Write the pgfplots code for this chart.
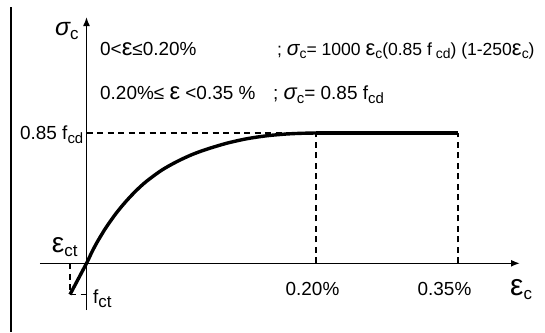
\documentclass[border=0pt]{standalone}
\usepackage{fontspec}
\setmainfont{Liberation Sans}
\usepackage{pgfplots}
\pgfplotsset{compat=1.18}
\usetikzlibrary{arrows.meta}
\newcommand\sub[2][15]{\raisebox{-0.22em}{\fontsize{#1}{#1}\selectfont #2}}
\newcommand\eps[1][24]{{\fontsize{#1}{#1}\selectfont ε}}
\newcommand\sig[1][22]{{\fontsize{#1}{#1}\selectfont\itshape σ}}
\begin{document}
\begin{tikzpicture}
\begin{axis}[
  x=1bp, y=1bp,
  xmin=-46.5, xmax=433.5, ymin=-46.7, ymax=246.3,
  axis lines=middle,
  axis line style={line width=1.6bp, -{Latex[length=9bp,width=7bp]}},
  clip=false,
  xtick={229.5},
  xticklabels={0.20\%},
  extra x ticks={371.5},
  extra x tick labels={0.35\%},
  extra x tick style={xticklabel style={xshift=-10bp}},
  ytick={130.3},
  yticklabels={0.85 f\sub{cd}},
  major tick length=0,
  tick label style={font=\fontsize{19}{22}\selectfont, inner sep=0pt},
  xticklabel style={anchor=base, yshift=-31.7bp, xshift=-3.5bp},
  yticklabel style={anchor=base east, xshift=-3bp, yshift=-6.8bp},
]
% guide lines
\addplot[line width=1.3bp, dash pattern=on 6bp off 4.5bp] coordinates {(0,130.3) (229.5,130.3)};
\addplot[line width=1.3bp, dash pattern=on 6bp off 4.5bp] coordinates {(229.5,0) (229.5,130.3)};
\addplot[line width=1.3bp, dash pattern=on 6bp off 4.5bp] coordinates {(371.5,0) (371.5,130.3)};
\addplot[line width=1.3bp, dash pattern=on 6bp off 4.5bp] coordinates {(-16.5,0) (-16.5,-31.2)};
\addplot[line width=1.3bp, dash pattern=on 6bp off 4.5bp] coordinates {(-16.5,-31.2) (0,-31.2)};
% stress-strain curve
\addplot[line width=3.4bp, smooth, tension=0.5] coordinates {
(-16.5,-31.2) (0,0) (5,10.5) (10,20) (15,28.5) (20,36.5) (30,50.5) (40,62.5)
(50,73) (60,82) (75,93) (90,101.5) (105,108.5) (120,114) (140,120)
(160,124.5) (180,127.5) (200,129.3) (215,130) (229.5,130.3)};
\addplot[line width=3.2bp] coordinates {(229.5,130.3) (371.5,130.3)};
% left frame line
\draw[line width=2.2bp] (axis cs:-75.5,256.3) -- (axis cs:-75.5,-68.7);
% labels
\node[anchor=base west, inner sep=0, font=\fontsize{19}{22}\selectfont] at (axis cs:-31.5,228.3) {\sig[25]\sub[17]{c}};
\node[anchor=base west, inner sep=0, font=\fontsize{19}{22}\selectfont] at (axis cs:423.5,-31.7) {\eps[30]\sub[17]{c}};
\node[anchor=base west, inner sep=0, font=\fontsize{19}{22}\selectfont] at (axis cs:-34.8,11.3) {\eps[28]\sub[17]{ct}};
\node[anchor=base west, inner sep=0, font=\fontsize{19}{22}\selectfont] at (axis cs:6.5,-39.7) {f\sub[17]{ct}};
\node[anchor=base west, inner sep=0, font=\fontsize{19}{22}\selectfont] at (axis cs:13.5,208.3) {0<\eps≤0.20\%};
\node[anchor=base west, inner sep=0, font=\fontsize{17.6}{21}\selectfont] at (axis cs:190.5,208.3) {; \sig[21]\sub[14]{c}= 1000 \eps[22]\sub[14]{c}(0.85 f\sub[14]{ cd}) (1-250\eps[22]\sub[14]{c})};
\node[anchor=base west, inner sep=0, font=\fontsize{19}{22}\selectfont] at (axis cs:13.5,164.3) {0.20\%≤ \eps{} <0.35 \%};
\node[anchor=base west, inner sep=0, font=\fontsize{19}{22}\selectfont] at (axis cs:186.5,164.3) {; \sig\sub{c}= 0.85 f\sub{cd}};
\coordinate (BL) at (axis cs:-86.5,-68.7);
\coordinate (TR) at (axis cs:458.5,263.3);
\end{axis}
\pgfresetboundingbox
\useasboundingbox (BL) rectangle (TR);
\end{tikzpicture}
\end{document}
